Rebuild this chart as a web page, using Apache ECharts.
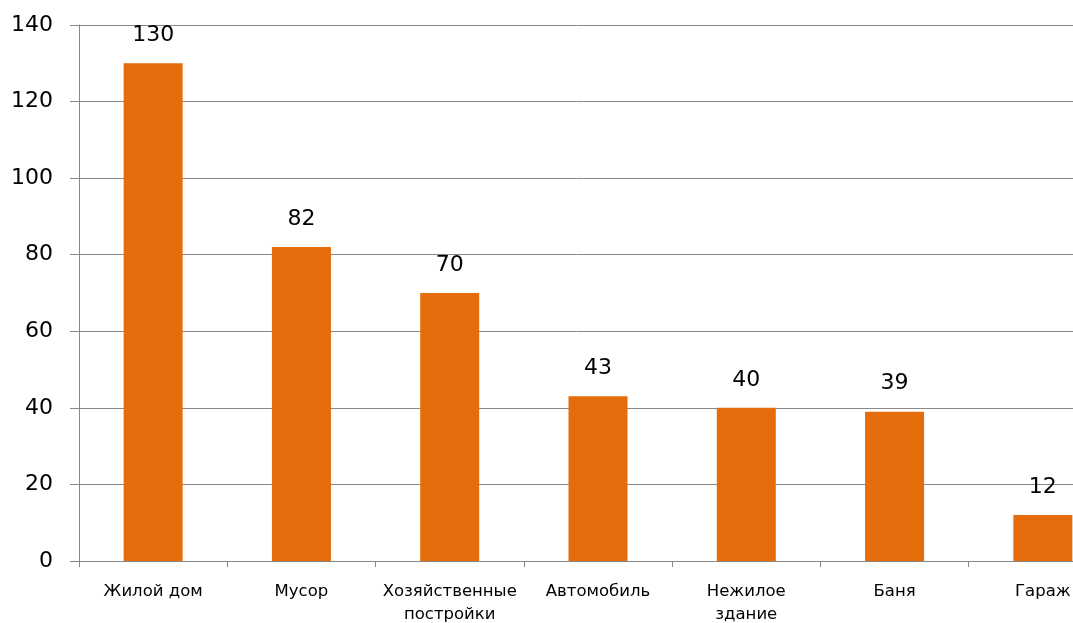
<!DOCTYPE html>
<html><head><meta charset="utf-8">
<script src="https://cdn.jsdelivr.net/npm/echarts@6/dist/echarts.min.js"></script>
<style>html,body{margin:0;padding:0;background:#fff}#c{width:1073px;height:623px}</style>
</head><body><div id="c"></div>
<script>
const categories = ['Жилой дом','Мусор','Хозяйственные\nпостройки','Автомобиль','Нежилое\nздание','Баня','Гараж'];
const values = [130,82,70,43,40,39,12];
const yTicks = {min:0,max:140,interval:20};
const chart = echarts.init(document.getElementById('c'));
chart.setOption({
  animation:false,
  grid:{left:79,top:25,height:536,width:1038,outerBoundsMode:'none',containLabel:false},
  xAxis:{type:'category',data:categories,
    axisLine:{lineStyle:{color:'#888',width:1}},
    axisTick:{show:true,length:6,lineStyle:{color:'#888'}},
    axisLabel:{interval:0,margin:19,fontFamily:'DejaVu Sans',fontSize:16.5,color:'#000',lineHeight:23}
  },
  yAxis:{type:'value',min:yTicks.min,max:yTicks.max,interval:yTicks.interval,
    axisLine:{show:true,lineStyle:{color:'#888'}},
    axisTick:{show:true,length:9,lineStyle:{color:'#888'}},
    splitLine:{lineStyle:{color:'#888',width:1}},
    axisLabel:{margin:26,fontFamily:'DejaVu Sans',fontSize:22,color:'#000'}
  },
  series:[{type:'bar',data:values,barWidth:59,
    itemStyle:{color:'#E46C0A'},
    label:{show:true,position:'top',distance:17,fontFamily:'DejaVu Sans',fontSize:22,color:'#000'}
  }]
});
</script></body></html>
